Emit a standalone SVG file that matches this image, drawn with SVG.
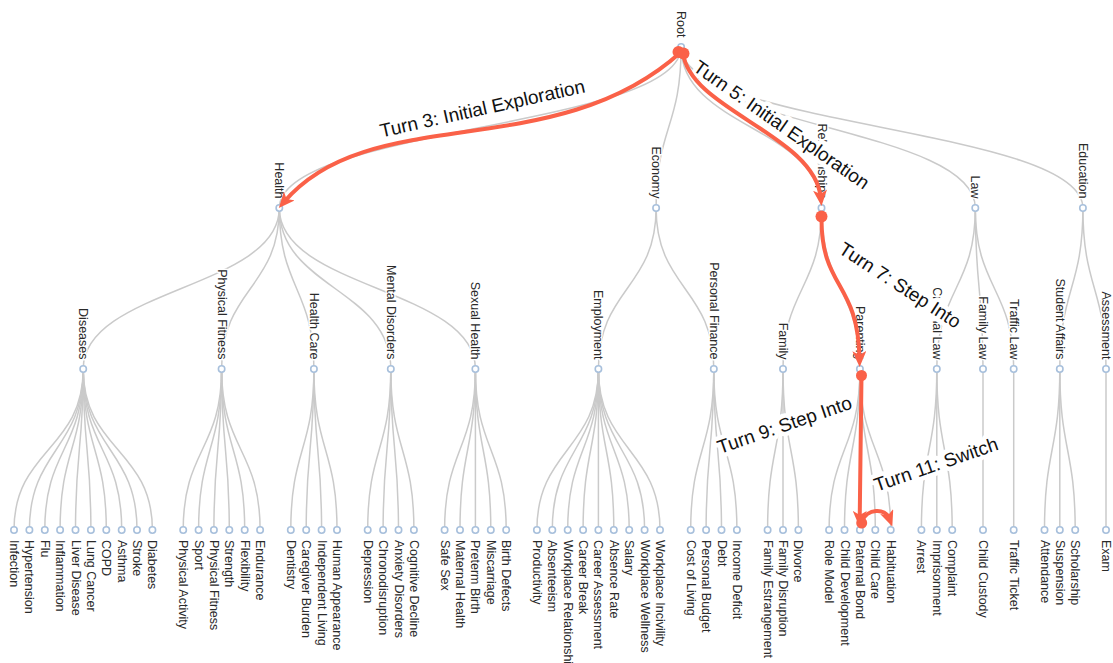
<svg xmlns="http://www.w3.org/2000/svg" width="1113" height="663" viewBox="0 0 1113 663">
<style>
.bg{fill:#fff}
.lk path{fill:none;stroke:#cacaca;stroke-width:1.5}
.nd circle{fill:#fff;stroke:#a8c0dc;stroke-width:1.6}
.nd text{font-family:"Liberation Sans",Arial,sans-serif;font-size:12.5px;fill:#2a2a2a;dominant-baseline:central;stroke:#fff;stroke-width:3px;stroke-linejoin:round;paint-order:stroke}
.in{text-anchor:end}
.tl text{font-family:"Liberation Sans",Arial,sans-serif;font-size:19px;fill:#111;stroke:#fff;stroke-width:9px;stroke-linejoin:round;paint-order:stroke}
.tr path{fill:none;stroke:#fa6148;stroke-width:4;stroke-linecap:round}
.tr circle{fill:#fa6148}
</style>
<defs>
<marker id="ah" markerUnits="userSpaceOnUse" markerWidth="16" markerHeight="14" viewBox="0 0 16 14" refX="8" refY="7" orient="auto"><path d="M0,0 L16,7 L0,14 L4,7 z" fill="#fa6148"/></marker>
</defs>
<rect class="bg" width="1113" height="663"/>
<g id="links" class="lk">
<path d="M681.1,47C681.1,127.5 279.3,127.5 279.3,208"/>
<path d="M681.1,47C681.1,127.5 656.1,127.5 656.1,208"/>
<path d="M681.1,47C681.1,127.5 821.5,127.5 821.5,208"/>
<path d="M681.1,47C681.1,127.5 975.3,127.5 975.3,208"/>
<path d="M681.1,47C681.1,127.5 1082.9,127.5 1082.9,208"/>
<path d="M279.3,208C279.3,288.5 83.2,288.5 83.2,369"/>
<path d="M279.3,208C279.3,288.5 221.6,288.5 221.6,369"/>
<path d="M279.3,208C279.3,288.5 313.9,288.5 313.9,369"/>
<path d="M279.3,208C279.3,288.5 390.8,288.5 390.8,369"/>
<path d="M279.3,208C279.3,288.5 475.4,288.5 475.4,369"/>
<path d="M656.1,208C656.1,288.5 598.4,288.5 598.4,369"/>
<path d="M656.1,208C656.1,288.5 713.8,288.5 713.8,369"/>
<path d="M821.5,208C821.5,288.5 783,288.5 783,369"/>
<path d="M821.5,208C821.5,288.5 859.9,288.5 859.9,369"/>
<path d="M975.3,208C975.3,288.5 936.8,288.5 936.8,369"/>
<path d="M975.3,208C975.3,288.5 983,288.5 983,369"/>
<path d="M975.3,208C975.3,288.5 1013.7,288.5 1013.7,369"/>
<path d="M1082.9,208C1082.9,288.5 1059.8,288.5 1059.8,369"/>
<path d="M1082.9,208C1082.9,288.5 1106,288.5 1106,369"/>
<path d="M83.2,369C83.2,449.5 14,449.5 14,530"/>
<path d="M83.2,369C83.2,449.5 29.4,449.5 29.4,530"/>
<path d="M83.2,369C83.2,449.5 44.8,449.5 44.8,530"/>
<path d="M83.2,369C83.2,449.5 60.1,449.5 60.1,530"/>
<path d="M83.2,369C83.2,449.5 75.5,449.5 75.5,530"/>
<path d="M83.2,369C83.2,449.5 90.9,449.5 90.9,530"/>
<path d="M83.2,369C83.2,449.5 106.3,449.5 106.3,530"/>
<path d="M83.2,369C83.2,449.5 121.7,449.5 121.7,530"/>
<path d="M83.2,369C83.2,449.5 137,449.5 137,530"/>
<path d="M83.2,369C83.2,449.5 152.4,449.5 152.4,530"/>
<path d="M221.6,369C221.6,449.5 183.2,449.5 183.2,530"/>
<path d="M221.6,369C221.6,449.5 198.6,449.5 198.6,530"/>
<path d="M221.6,369C221.6,449.5 213.9,449.5 213.9,530"/>
<path d="M221.6,369C221.6,449.5 229.3,449.5 229.3,530"/>
<path d="M221.6,369C221.6,449.5 244.7,449.5 244.7,530"/>
<path d="M221.6,369C221.6,449.5 260.1,449.5 260.1,530"/>
<path d="M313.9,369C313.9,449.5 290.8,449.5 290.8,530"/>
<path d="M313.9,369C313.9,449.5 306.2,449.5 306.2,530"/>
<path d="M313.9,369C313.9,449.5 321.6,449.5 321.6,530"/>
<path d="M313.9,369C313.9,449.5 337,449.5 337,530"/>
<path d="M390.8,369C390.8,449.5 367.7,449.5 367.7,530"/>
<path d="M390.8,369C390.8,449.5 383.1,449.5 383.1,530"/>
<path d="M390.8,369C390.8,449.5 398.5,449.5 398.5,530"/>
<path d="M390.8,369C390.8,449.5 413.9,449.5 413.9,530"/>
<path d="M475.4,369C475.4,449.5 444.6,449.5 444.6,530"/>
<path d="M475.4,369C475.4,449.5 460,449.5 460,530"/>
<path d="M475.4,369C475.4,449.5 475.4,449.5 475.4,530"/>
<path d="M475.4,369C475.4,449.5 490.8,449.5 490.8,530"/>
<path d="M475.4,369C475.4,449.5 506.2,449.5 506.2,530"/>
<path d="M598.4,369C598.4,449.5 536.9,449.5 536.9,530"/>
<path d="M598.4,369C598.4,449.5 552.3,449.5 552.3,530"/>
<path d="M598.4,369C598.4,449.5 567.7,449.5 567.7,530"/>
<path d="M598.4,369C598.4,449.5 583.1,449.5 583.1,530"/>
<path d="M598.4,369C598.4,449.5 598.4,449.5 598.4,530"/>
<path d="M598.4,369C598.4,449.5 613.8,449.5 613.8,530"/>
<path d="M598.4,369C598.4,449.5 629.2,449.5 629.2,530"/>
<path d="M598.4,369C598.4,449.5 644.6,449.5 644.6,530"/>
<path d="M598.4,369C598.4,449.5 660,449.5 660,530"/>
<path d="M713.8,369C713.8,449.5 690.7,449.5 690.7,530"/>
<path d="M713.8,369C713.8,449.5 706.1,449.5 706.1,530"/>
<path d="M713.8,369C713.8,449.5 721.5,449.5 721.5,530"/>
<path d="M713.8,369C713.8,449.5 736.9,449.5 736.9,530"/>
<path d="M783,369C783,449.5 767.6,449.5 767.6,530"/>
<path d="M783,369C783,449.5 783,449.5 783,530"/>
<path d="M783,369C783,449.5 798.4,449.5 798.4,530"/>
<path d="M859.9,369C859.9,449.5 829.1,449.5 829.1,530"/>
<path d="M859.9,369C859.9,449.5 844.5,449.5 844.5,530"/>
<path d="M859.9,369C859.9,449.5 859.9,449.5 859.9,530"/>
<path d="M859.9,369C859.9,449.5 875.3,449.5 875.3,530"/>
<path d="M859.9,369C859.9,449.5 890.7,449.5 890.7,530"/>
<path d="M936.8,369C936.8,449.5 921.4,449.5 921.4,530"/>
<path d="M936.8,369C936.8,449.5 936.8,449.5 936.8,530"/>
<path d="M936.8,369C936.8,449.5 952.2,449.5 952.2,530"/>
<path d="M983,369C983,449.5 983,449.5 983,530"/>
<path d="M1013.7,369C1013.7,449.5 1013.7,449.5 1013.7,530"/>
<path d="M1059.8,369C1059.8,449.5 1044.5,449.5 1044.5,530"/>
<path d="M1059.8,369C1059.8,449.5 1059.8,449.5 1059.8,530"/>
<path d="M1059.8,369C1059.8,449.5 1075.2,449.5 1075.2,530"/>
<path d="M1106,369C1106,449.5 1106,449.5 1106,530"/>
</g>
<g id="nodes" class="nd">
<g id="n-root"><circle cx="681.1" cy="47" r="3.2"/><text class="in" transform="translate(681.1,37.5) rotate(90)">Root</text></g>
<g id="n-health"><circle cx="279.3" cy="208" r="3.2"/><text class="in" transform="translate(279.3,198.5) rotate(90)">Health</text></g>
<g id="n-economy"><circle cx="656.1" cy="208" r="3.2"/><text class="in" transform="translate(656.1,198.5) rotate(90)">Economy</text></g>
<g id="n-relationships"><circle cx="821.5" cy="208" r="3.2"/><text class="in" transform="translate(821.5,198.5) rotate(90)">Relationships</text></g>
<g id="n-law"><circle cx="975.3" cy="208" r="3.2"/><text class="in" transform="translate(975.3,198.5) rotate(90)">Law</text></g>
<g id="n-education"><circle cx="1082.9" cy="208" r="3.2"/><text class="in" transform="translate(1082.9,198.5) rotate(90)">Education</text></g>
<g id="n-diseases"><circle cx="83.2" cy="369" r="3.2"/><text class="in" transform="translate(83.2,359.5) rotate(90)">Diseases</text></g>
<g id="n-physical-fitness"><circle cx="221.6" cy="369" r="3.2"/><text class="in" transform="translate(221.6,359.5) rotate(90)">Physical Fitness</text></g>
<g id="n-health-care"><circle cx="313.9" cy="369" r="3.2"/><text class="in" transform="translate(313.9,359.5) rotate(90)">Health Care</text></g>
<g id="n-mental-disorders"><circle cx="390.8" cy="369" r="3.2"/><text class="in" transform="translate(390.8,359.5) rotate(90)">Mental Disorders</text></g>
<g id="n-sexual-health"><circle cx="475.4" cy="369" r="3.2"/><text class="in" transform="translate(475.4,359.5) rotate(90)">Sexual Health</text></g>
<g id="n-employment"><circle cx="598.4" cy="369" r="3.2"/><text class="in" transform="translate(598.4,359.5) rotate(90)">Employment</text></g>
<g id="n-personal-finance"><circle cx="713.8" cy="369" r="3.2"/><text class="in" transform="translate(713.8,359.5) rotate(90)">Personal Finance</text></g>
<g id="n-family"><circle cx="783" cy="369" r="3.2"/><text class="in" transform="translate(783,359.5) rotate(90)">Family</text></g>
<g id="n-parenting"><circle cx="859.9" cy="369" r="3.2"/><text class="in" transform="translate(859.9,359.5) rotate(90)">Parenting</text></g>
<g id="n-criminal-law"><circle cx="936.8" cy="369" r="3.2"/><text class="in" transform="translate(936.8,359.5) rotate(90)">Criminal Law</text></g>
<g id="n-family-law"><circle cx="983" cy="369" r="3.2"/><text class="in" transform="translate(983,359.5) rotate(90)">Family Law</text></g>
<g id="n-traffic-law"><circle cx="1013.7" cy="369" r="3.2"/><text class="in" transform="translate(1013.7,359.5) rotate(90)">Traffic Law</text></g>
<g id="n-student-affairs"><circle cx="1059.8" cy="369" r="3.2"/><text class="in" transform="translate(1059.8,359.5) rotate(90)">Student Affairs</text></g>
<g id="n-assessment"><circle cx="1106" cy="369" r="3.2"/><text class="in" transform="translate(1106,359.5) rotate(90)">Assessment</text></g>
<g id="n-infection"><circle cx="14" cy="530" r="3.2"/><text transform="translate(14,540) rotate(90)">Infection</text></g>
<g id="n-hypertension"><circle cx="29.4" cy="530" r="3.2"/><text transform="translate(29.4,540) rotate(90)">Hypertension</text></g>
<g id="n-flu"><circle cx="44.8" cy="530" r="3.2"/><text transform="translate(44.8,540) rotate(90)">Flu</text></g>
<g id="n-inflammation"><circle cx="60.1" cy="530" r="3.2"/><text transform="translate(60.1,540) rotate(90)">Inflammation</text></g>
<g id="n-liver-disease"><circle cx="75.5" cy="530" r="3.2"/><text transform="translate(75.5,540) rotate(90)">Liver Disease</text></g>
<g id="n-lung-cancer"><circle cx="90.9" cy="530" r="3.2"/><text transform="translate(90.9,540) rotate(90)">Lung Cancer</text></g>
<g id="n-copd"><circle cx="106.3" cy="530" r="3.2"/><text transform="translate(106.3,540) rotate(90)">COPD</text></g>
<g id="n-asthma"><circle cx="121.7" cy="530" r="3.2"/><text transform="translate(121.7,540) rotate(90)">Asthma</text></g>
<g id="n-stroke"><circle cx="137" cy="530" r="3.2"/><text transform="translate(137,540) rotate(90)">Stroke</text></g>
<g id="n-diabetes"><circle cx="152.4" cy="530" r="3.2"/><text transform="translate(152.4,540) rotate(90)">Diabetes</text></g>
<g id="n-physical-activity"><circle cx="183.2" cy="530" r="3.2"/><text transform="translate(183.2,540) rotate(90)">Physical Activity</text></g>
<g id="n-sport"><circle cx="198.6" cy="530" r="3.2"/><text transform="translate(198.6,540) rotate(90)">Sport</text></g>
<g id="n-physical-fitness-leaf"><circle cx="213.9" cy="530" r="3.2"/><text transform="translate(213.9,540) rotate(90)">Physical Fitness</text></g>
<g id="n-strength"><circle cx="229.3" cy="530" r="3.2"/><text transform="translate(229.3,540) rotate(90)">Strength</text></g>
<g id="n-flexibility"><circle cx="244.7" cy="530" r="3.2"/><text transform="translate(244.7,540) rotate(90)">Flexibility</text></g>
<g id="n-endurance"><circle cx="260.1" cy="530" r="3.2"/><text transform="translate(260.1,540) rotate(90)">Endurance</text></g>
<g id="n-dentistry"><circle cx="290.8" cy="530" r="3.2"/><text transform="translate(290.8,540) rotate(90)">Dentistry</text></g>
<g id="n-caregiver-burden"><circle cx="306.2" cy="530" r="3.2"/><text transform="translate(306.2,540) rotate(90)">Caregiver Burden</text></g>
<g id="n-independent-living"><circle cx="321.6" cy="530" r="3.2"/><text transform="translate(321.6,540) rotate(90)">Independent Living</text></g>
<g id="n-human-appearance"><circle cx="337" cy="530" r="3.2"/><text transform="translate(337,540) rotate(90)">Human Appearance</text></g>
<g id="n-depression"><circle cx="367.7" cy="530" r="3.2"/><text transform="translate(367.7,540) rotate(90)">Depression</text></g>
<g id="n-chronodisruption"><circle cx="383.1" cy="530" r="3.2"/><text transform="translate(383.1,540) rotate(90)">Chronodisruption</text></g>
<g id="n-anxiety-disorders"><circle cx="398.5" cy="530" r="3.2"/><text transform="translate(398.5,540) rotate(90)">Anxiety Disorders</text></g>
<g id="n-cognitive-decline"><circle cx="413.9" cy="530" r="3.2"/><text transform="translate(413.9,540) rotate(90)">Cognitive Decline</text></g>
<g id="n-safe-sex"><circle cx="444.6" cy="530" r="3.2"/><text transform="translate(444.6,540) rotate(90)">Safe Sex</text></g>
<g id="n-maternal-health"><circle cx="460" cy="530" r="3.2"/><text transform="translate(460,540) rotate(90)">Maternal Health</text></g>
<g id="n-preterm-birth"><circle cx="475.4" cy="530" r="3.2"/><text transform="translate(475.4,540) rotate(90)">Preterm Birth</text></g>
<g id="n-miscarriage"><circle cx="490.8" cy="530" r="3.2"/><text transform="translate(490.8,540) rotate(90)">Miscarriage</text></g>
<g id="n-birth-defects"><circle cx="506.2" cy="530" r="3.2"/><text transform="translate(506.2,540) rotate(90)">Birth Defects</text></g>
<g id="n-productivity"><circle cx="536.9" cy="530" r="3.2"/><text transform="translate(536.9,540) rotate(90)">Productivity</text></g>
<g id="n-absenteeism"><circle cx="552.3" cy="530" r="3.2"/><text transform="translate(552.3,540) rotate(90)">Absenteeism</text></g>
<g id="n-workplace-relationship"><circle cx="567.7" cy="530" r="3.2"/><text transform="translate(567.7,540) rotate(90)">Workplace Relationship</text></g>
<g id="n-career-break"><circle cx="583.1" cy="530" r="3.2"/><text transform="translate(583.1,540) rotate(90)">Career Break</text></g>
<g id="n-career-assessment"><circle cx="598.4" cy="530" r="3.2"/><text transform="translate(598.4,540) rotate(90)">Career Assessment</text></g>
<g id="n-absence-rate"><circle cx="613.8" cy="530" r="3.2"/><text transform="translate(613.8,540) rotate(90)">Absence Rate</text></g>
<g id="n-salary"><circle cx="629.2" cy="530" r="3.2"/><text transform="translate(629.2,540) rotate(90)">Salary</text></g>
<g id="n-workplace-wellness"><circle cx="644.6" cy="530" r="3.2"/><text transform="translate(644.6,540) rotate(90)">Workplace Wellness</text></g>
<g id="n-workplace-incivility"><circle cx="660" cy="530" r="3.2"/><text transform="translate(660,540) rotate(90)">Workplace Incivility</text></g>
<g id="n-cost-of-living"><circle cx="690.7" cy="530" r="3.2"/><text transform="translate(690.7,540) rotate(90)">Cost of Living</text></g>
<g id="n-personal-budget"><circle cx="706.1" cy="530" r="3.2"/><text transform="translate(706.1,540) rotate(90)">Personal Budget</text></g>
<g id="n-debt"><circle cx="721.5" cy="530" r="3.2"/><text transform="translate(721.5,540) rotate(90)">Debt</text></g>
<g id="n-income-deficit"><circle cx="736.9" cy="530" r="3.2"/><text transform="translate(736.9,540) rotate(90)">Income Deficit</text></g>
<g id="n-family-estrangement"><circle cx="767.6" cy="530" r="3.2"/><text transform="translate(767.6,540) rotate(90)">Family Estrangement</text></g>
<g id="n-family-disruption"><circle cx="783" cy="530" r="3.2"/><text transform="translate(783,540) rotate(90)">Family Disruption</text></g>
<g id="n-divorce"><circle cx="798.4" cy="530" r="3.2"/><text transform="translate(798.4,540) rotate(90)">Divorce</text></g>
<g id="n-role-model"><circle cx="829.1" cy="530" r="3.2"/><text transform="translate(829.1,540) rotate(90)">Role Model</text></g>
<g id="n-child-development"><circle cx="844.5" cy="530" r="3.2"/><text transform="translate(844.5,540) rotate(90)">Child Development</text></g>
<g id="n-paternal-bond"><circle cx="859.9" cy="530" r="3.2"/><text transform="translate(859.9,540) rotate(90)">Paternal Bond</text></g>
<g id="n-child-care"><circle cx="875.3" cy="530" r="3.2"/><text transform="translate(875.3,540) rotate(90)">Child Care</text></g>
<g id="n-habituation"><circle cx="890.7" cy="530" r="3.2"/><text transform="translate(890.7,540) rotate(90)">Habituation</text></g>
<g id="n-arrest"><circle cx="921.4" cy="530" r="3.2"/><text transform="translate(921.4,540) rotate(90)">Arrest</text></g>
<g id="n-imprisonment"><circle cx="936.8" cy="530" r="3.2"/><text transform="translate(936.8,540) rotate(90)">Imprisonment</text></g>
<g id="n-complaint"><circle cx="952.2" cy="530" r="3.2"/><text transform="translate(952.2,540) rotate(90)">Complaint</text></g>
<g id="n-child-custody"><circle cx="983" cy="530" r="3.2"/><text transform="translate(983,540) rotate(90)">Child Custody</text></g>
<g id="n-traffic-ticket"><circle cx="1013.7" cy="530" r="3.2"/><text transform="translate(1013.7,540) rotate(90)">Traffic Ticket</text></g>
<g id="n-attendance"><circle cx="1044.5" cy="530" r="3.2"/><text transform="translate(1044.5,540) rotate(90)">Attendance</text></g>
<g id="n-suspension"><circle cx="1059.8" cy="530" r="3.2"/><text transform="translate(1059.8,540) rotate(90)">Suspension</text></g>
<g id="n-scholarship"><circle cx="1075.2" cy="530" r="3.2"/><text transform="translate(1075.2,540) rotate(90)">Scholarship</text></g>
<g id="n-exam"><circle cx="1106" cy="530" r="3.2"/><text transform="translate(1106,540) rotate(90)">Exam</text></g>
</g>
<g id="turn-labels" class="tl">
<text transform="translate(381.5,137.5) rotate(-12.5)">Turn 3: Initial Exploration</text>
<text transform="translate(692,70) rotate(35)">Turn 5: Initial Exploration</text>
<text transform="translate(837.5,252.3) rotate(33)">Turn 7: Step Into</text>
<text transform="translate(720,454) rotate(-19)">Turn 9: Step Into</text>
<text transform="translate(876.7,491.7) rotate(-19)">Turn 11: Switch</text>
</g>
<g id="turns" class="tr">
<path d="M681,52C555,166 371,100 284,202" marker-end="url(#ah)"/>
<path d="M683,53C690,110 815,135 820.8,198" marker-end="url(#ah)"/>
<path d="M821.5,217C821,290 858,280 859.5,359" marker-end="url(#ah)"/>
<path d="M861.5,375.5L859.7,519" marker-end="url(#ah)"/>
<path d="M862,521C867,509 885,507 889.5,519" marker-end="url(#ah)"/>
<circle cx="678.5" cy="52" r="6"/>
<circle cx="683.5" cy="53.5" r="6"/>
<circle cx="821.5" cy="216.5" r="6"/>
<circle cx="861.5" cy="375.5" r="5.5"/>
<circle cx="861.7" cy="523" r="5.5"/>
</g>
</svg>
